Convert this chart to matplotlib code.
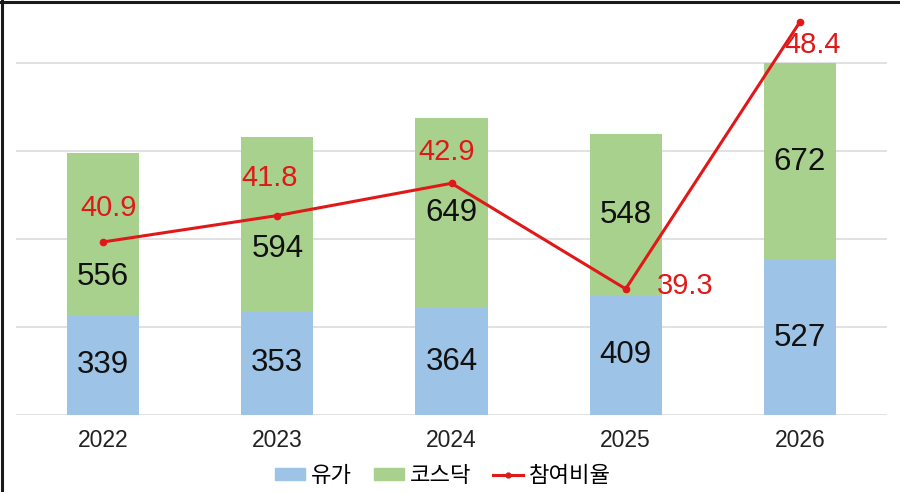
import matplotlib
matplotlib.use("Agg")
import matplotlib.pyplot as plt
from matplotlib.lines import Line2D
from matplotlib.patches import Patch

plt.rcParams['font.family'] = ['Liberation Sans', 'Noto Sans CJK KR', 'DejaVu Sans']

# ---- data ----
years = ['2022', '2023', '2024', '2025', '2026']
kospi = [339, 353, 364, 409, 527]          # 유가
kosdaq = [556, 594, 649, 548, 672]         # 코스닥
ratio = [40.9, 41.8, 42.9, 39.3, 48.4]     # 참여비율
series_names = ['유가', '코스닥', '참여비율']

# ---- label placement (pixels) ----
kosdaq_label_dy = [-43, -25, 0, 0, 0]
ratio_label_off = [(5, 34), (-8, 38), (-5, 31), (31, 3), (13, -23)]
ratio_label_ha = ['center', 'center', 'center', 'left', 'center']

BLUE = '#9DC3E6'
GREEN = '#A9D18E'
RED = '#E01818'

fig = plt.figure(figsize=(9, 4.92), dpi=100)
W, H = 900, 492
ax = fig.add_axes([16 / W, 77 / H, 871 / W, 415 / H])
x = list(range(len(years)))

ymax = 1415
ax.set_ylim(0, ymax)
ax.set_xlim(-0.5, len(years) - 0.5)
ax.set_yticks([0, 300, 600, 900, 1200])
ax.yaxis.grid(True, color='#D9D9D9', linewidth=1.1, zorder=0)
ax.set_axisbelow(True)
for s in ax.spines.values():
    s.set_visible(False)
ax.set_xticks(x, years)

bw = 0.414
ax.bar(x, kospi, width=bw, color=BLUE, zorder=2, label=series_names[0])
ax.bar(x, kosdaq, width=bw, bottom=kospi, color=GREEN, zorder=2, label=series_names[1])

for i in x:
    ax.annotate(str(kospi[i]), (i, kospi[i] / 2), ha='center', va='center',
                fontsize=22.5, color='#111111', zorder=3)
    ax.annotate(str(kosdaq[i]), (i, kospi[i] + kosdaq[i] / 2),
                xytext=(0, kosdaq_label_dy[i]), textcoords='offset pixels',
                ha='center', va='center', fontsize=22.5, color='#111111', zorder=3)

ax2 = ax.twinx()
ax2.set_ylim(35, 35 + ymax / 100)
for s in ax2.spines.values():
    s.set_visible(False)
ax2.plot(x, ratio, color=RED, linewidth=2.2, marker='o', markersize=4.5,
         label=series_names[2], zorder=4)
for i in x:
    ax2.annotate(f'{ratio[i]:.1f}', (i, ratio[i]), xytext=ratio_label_off[i],
                 textcoords='offset pixels', ha=ratio_label_ha[i], va='center',
                 fontsize=21, color=RED, zorder=5)

ax.tick_params(axis='y', left=False, right=False, labelleft=False, labelright=False)
ax2.tick_params(axis='y', left=False, right=False, labelleft=False, labelright=False)
ax.tick_params(axis='x', length=0, pad=10, labelsize=16.5, labelcolor='#222222')

handles = [Patch(color=BLUE), Patch(color=GREEN),
           Line2D([0], [0], color=RED, linewidth=2.2, marker='o', markersize=3.5)]
fig.legend(handles, series_names, loc='center', bbox_to_anchor=(443 / W, 1 - 476 / H),
           ncol=3, frameon=False, fontsize=16, handlelength=1.35, handleheight=0.45,
           handletextpad=0.25, columnspacing=1.0)

# frame lines (top and left)
fig.add_artist(Line2D([0, 1], [1 - 1.5 / H, 1 - 1.5 / H], transform=fig.transFigure,
                      color='#1a1a1a', linewidth=2.2))
fig.add_artist(Line2D([1.5 / W, 1.5 / W], [0, 1], transform=fig.transFigure,
                      color='#1a1a1a', linewidth=2.2))

fig.savefig('out.png', dpi=100)
